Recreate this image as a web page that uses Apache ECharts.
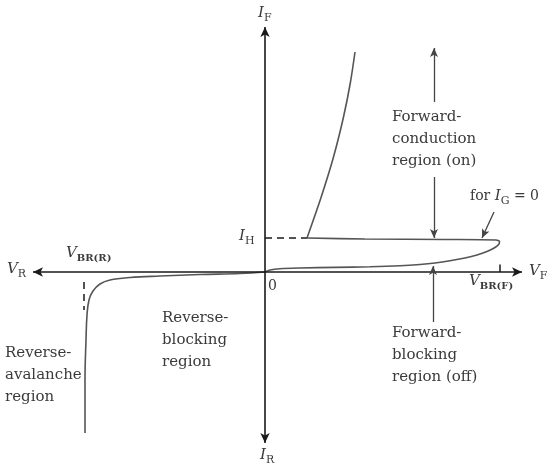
<!DOCTYPE html>
<html>
<head>
<meta charset="utf-8">
<title>SCR characteristic</title>
<script src="https://cdn.jsdelivr.net/npm/echarts@6/dist/echarts.min.js"></script>
<style>
html,body{margin:0;padding:0;background:#fff;}
#main{width:548px;height:472px;}
</style>
</head>
<body>
<div id="main"></div>
<script>
'use strict';

// diagram units: 1 unit = 10px, origin where the axes cross
var xRange=[-26.5,28.3];
var yRange=[-20,27.2];
var axisH=[-23.2,25.7];   // V_R ... V_F
var axisV=[-17.1,24.5];   // I_R ... I_F

// forward blocking branch, turn back at V_BR(F), flat line back to I_H
var forwardOff=[[0,0],[0.5,0.2],[1.5,0.33],[3.5,0.4],[7,0.46],[10.5,0.52],[13.5,0.62],[15.5,0.75],
    [17,0.9],[18.5,1.12],[20,1.4],[21.2,1.7],[22.2,2.05],[23.0,2.45],[23.4,2.8],[23.45,3.05],[23.1,3.2],
    [18,3.25],[10,3.3],[4.2,3.4]];
// forward conduction branch
var forwardOn=[[4.2,3.4],[5.62,7.5],[6.85,11.5],[7.85,15.5],[8.53,18.9],[9.0,22.0]];
// reverse blocking + avalanche
var reverseCurve=[[0,0],[-2.5,-0.15],[-6.5,-0.25],[-10.5,-0.4],[-13.5,-0.55],[-15.5,-0.8],[-16.5,-1.2],
    [-17.2,-1.9],[-17.6,-2.8],[-17.8,-4.3],[-17.9,-6.8],[-18,-10.8],[-18,-16.1]];

var holdingCurrent=3.4, holdingX=4.2;
var breakdownR=-18.1, breakdownF=23.5;

// annotation arrows [from, to]
var arrows=[
    [[16.9,17.0],[16.9,22.4]],   // forward conduction, up
    [[16.9,9.5],[16.9,3.4]],     // forward conduction, down
    [[16.8,-5.0],[16.8,0.6]],    // forward blocking
    [[22.9,6.0],[21.7,3.4]]      // for I_G = 0
];

var INK='#1a1a1a', CURVE='#555', TEXT='#3a3a3a';
var SERIF='"DejaVu Serif", "Liberation Serif", serif';

var ctx=document.createElement('canvas').getContext('2d');
function textWidth(str,font){
    ctx.font=font;
    return ctx.measureText(str).width;
}
function each(arr,fn){ for(var i=0;i<arr.length;i++){ fn(arr[i],i); } }

function F(style,size){ return style+' '+size+'px '+SERIF; }
var fMain=F('italic',15), fSub=F('normal',11), fSubB=F('bold',10), fNorm=F('normal',14);

// a row of pieces [text, font, dy] laid out left to right
function mathText(x,y,pieces){
    var els=[];
    each(pieces,function(p){
        els.push({type:'text',x:x,y:y+(p[2]||0),silent:true,
            style:{text:p[0],font:p[1],fill:TEXT,align:'left',textAlign:'left',verticalAlign:'middle',textVerticalAlign:'middle'}});
        x+=textWidth(p[0],p[1]);
    });
    return els;
}

function block(x,yFirst,str){
    return {type:'text',x:x,y:yFirst-11,silent:true,
        style:{text:str,font:F('normal',15),lineHeight:22,fill:TEXT,align:'left',textAlign:'left',verticalAlign:'top',textVerticalAlign:'top'}};
}

var graphics=[].concat(
    mathText(258,13,[['I',fMain],['F',fSub,5]]),
    mathText(260,455,[['I',fMain],['R',fSub,5]]),
    mathText(7,269,[['V',fMain],['R',fSub,5]]),
    mathText(529,271,[['V',fMain],['F',fSub,5]]),
    mathText(66,253,[['V',fMain],['BR(R)',fSubB,5]]),
    mathText(469,281,[['V',fMain],['BR(F)',fSubB,5]]),
    mathText(239,236,[['I',fMain],['H',fSub,5]]),
    mathText(268,286,[['0',fNorm]]),
    mathText(470,196,[['for ',F('normal',14)],['I',fMain],['G',fSub,5],[' = 0',F('normal',14)]]),
    [block(392,117,'Forward-\nconduction\nregion (on)'),
     block(392,333,'Forward-\nblocking\nregion (off)'),
     block(162,318,'Reverse-\nblocking\nregion'),
     block(5,353,'Reverse-\navalanche\nregion')]
);

function curve(name,data,smooth){
    return {name:name,type:'line',data:data,smooth:smooth,showSymbol:false,silent:true,
        lineStyle:{color:CURVE,width:1.6},z:3};
}
function dashed(name,data){
    return {name:name,type:'line',data:data,showSymbol:false,silent:true,
        lineStyle:{color:INK,width:1.5,type:[7,5]},z:2};
}

var arrowLines=[];
each(arrows,function(a){
    arrowLines.push([{coord:a[0],symbol:'none'},{coord:a[1],symbol:'arrow',symbolSize:[6,9]}]);
});

var chart=echarts.init(document.getElementById('main'),null,{renderer:'canvas'});
chart.setOption({
    animation:false,
    grid:{left:0,right:0,top:0,bottom:0},
    xAxis:{type:'value',min:xRange[0],max:xRange[1],show:false},
    yAxis:{type:'value',min:yRange[0],max:yRange[1],show:false},
    graphic:graphics,
    series:[
        {name:'axes',type:'line',data:[],silent:true,
            markLine:{silent:true,animation:false,symbol:['arrow','arrow'],symbolSize:[7,10],
                label:{show:false},lineStyle:{color:INK,width:1.6,type:'solid'},
                data:[
                    [{coord:[axisH[0],0]},{coord:[axisH[1],0]}],
                    [{coord:[0,axisV[0]]},{coord:[0,axisV[1]]}]
                ]}},
        {name:'arrows',type:'line',data:[],silent:true,
            markLine:{silent:true,animation:false,label:{show:false},
                lineStyle:{color:'#444',width:1.3,type:'solid'},data:arrowLines}},
        curve('forward-off',forwardOff,0.3),
        curve('forward-on',forwardOn,0.3),
        curve('reverse',reverseCurve,0.4),
        dashed('holding',[[0,holdingCurrent],[holdingX,holdingCurrent]]),
        dashed('vbr-r',[[breakdownR,-1.0],[breakdownR,-3.8]]),
        {name:'vbr-f',type:'line',data:[[breakdownF,0],[breakdownF,0.75]],showSymbol:false,silent:true,
            lineStyle:{color:INK,width:1.5}}
    ]
});
</script>
</body>
</html>
